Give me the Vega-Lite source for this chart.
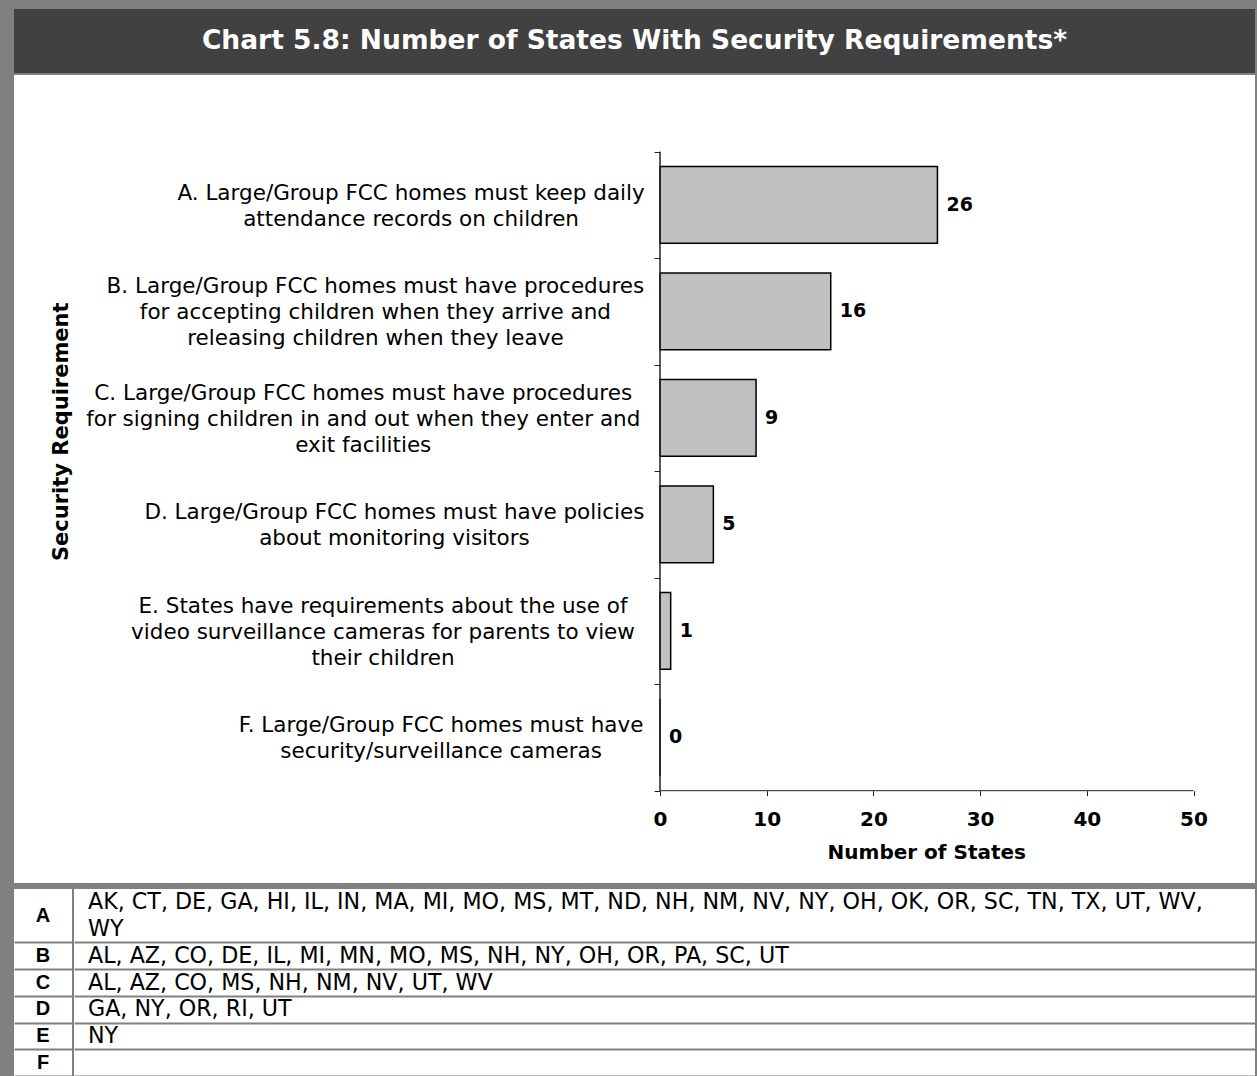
{
  "$schema": "https://vega.github.io/schema/vega-lite/v6.json",
  "background": "#808080",
  "padding": {"left": 14, "top": 9, "right": 2, "bottom": 0},
  "spacing": 2,
  "config": {"view": {"stroke": null}},
  "datasets": {
    "requirements": [
      {"key": "A", "requirement": "A. Large/Group FCC homes must keep daily|attendance records on children", "num_states": 26},
      {"key": "B", "requirement": "B. Large/Group FCC homes must have procedures|for accepting children when they arrive and|releasing children when they leave", "num_states": 16},
      {"key": "C", "requirement": "C. Large/Group FCC homes must have procedures|for signing children in and out when they enter and|exit facilities", "num_states": 9},
      {"key": "D", "requirement": "D. Large/Group FCC homes must have policies|about monitoring visitors", "num_states": 5},
      {"key": "E", "requirement": "E. States have requirements about the use of|video surveillance cameras for parents to view|their children", "num_states": 1},
      {"key": "F", "requirement": "F. Large/Group FCC homes must have|security/surveillance cameras", "num_states": 0}
    ],
    "table": [
      {"key": "A", "states": "AK, CT, DE, GA, HI, IL, IN, MA, MI, MO, MS, MT, ND, NH, NM, NV, NY, OH, OK, OR, SC, TN, TX, UT, WV,|WY"},
      {"key": "B", "states": "AL, AZ, CO, DE, IL, MI, MN, MO, MS, NH, NY, OH, OR, PA, SC, UT"},
      {"key": "C", "states": "AL, AZ, CO, MS, NH, NM, NV, UT, WV"},
      {"key": "D", "states": "GA, NY, OR, RI, UT"},
      {"key": "E", "states": "NY"},
      {"key": "F", "states": ""}
    ]
  },
  "vconcat": [
    {
      "width": 1241,
      "height": 64,
      "view": {"fill": "#414141", "stroke": null},
      "data": {"values": [{"title": "Chart 5.8: Number of States With Security Requirements*"}]},
      "mark": {"type": "text", "font": "DejaVu Sans", "fontWeight": "bold", "fontSize": 26.5, "fill": "#ffffff", "align": "center", "baseline": "middle"},
      "encoding": {"text": {"field": "title"}}
    },
    {
      "spacing": 6,
      "vconcat": [
        {
          "width": 1241,
          "height": 808,
          "view": {"fill": "#ffffff", "stroke": null},
          "data": {"name": "requirements"},
          "layer": [
            {
              "mark": {"type": "bar", "fill": "#c0c0c0", "stroke": "#000000", "strokeWidth": 1.5, "height": {"band": 0.72}},
              "encoding": {
                "y": {
                  "field": "requirement", "type": "nominal", "sort": null,
                  "scale": {
                    "domain": [
                      "A. Large/Group FCC homes must keep daily|attendance records on children",
                      "B. Large/Group FCC homes must have procedures|for accepting children when they arrive and|releasing children when they leave",
                      "C. Large/Group FCC homes must have procedures|for signing children in and out when they enter and|exit facilities",
                      "D. Large/Group FCC homes must have policies|about monitoring visitors",
                      "E. States have requirements about the use of|video surveillance cameras for parents to view|their children",
                      "F. Large/Group FCC homes must have|security/surveillance cameras"
                    ],
                    "paddingInner": 0, "paddingOuter": 0.7934, "align": 0.4538
                  },
                  "axis": {"orient": "left", "offset": -646, "domain": false, "labels": false, "ticks": true, "tickBand": "extent", "tickSize": 6, "tickColor": "#222222", "tickWidth": 1, "grid": false, "title": null, "minExtent": 0}
                },
                "x": {
                  "field": "num_states", "type": "quantitative",
                  "scale": {"domain": [-60.54, 55.76], "nice": false, "zero": false},
                  "axis": {"orient": "bottom", "offset": -92.3, "values": [0, 10, 20, 30, 40, 50], "format": "d", "domain": false, "ticks": true, "tickSize": 5, "tickColor": "#222222", "tickWidth": 1, "labelFont": "DejaVu Sans", "labelFontWeight": "bold", "labelFontSize": 20, "labelColor": "#000000", "labelPadding": 14, "labelFlush": false, "labelOverlap": false, "grid": false, "title": null, "minExtent": 0}
                },
                "x2": {"datum": 0}
              }
            },
            {
              "mark": {"type": "text", "align": "left", "baseline": "middle", "dx": 9, "font": "DejaVu Sans", "fontWeight": "bold", "fontSize": 19, "fill": "#000000"},
              "encoding": {
                "y": {"field": "requirement", "type": "nominal", "sort": null},
                "x": {"field": "num_states", "type": "quantitative"},
                "text": {"field": "num_states", "type": "quantitative", "format": "d"}
              }
            },
            {
              "mark": {
                "type": "text", "align": "center", "baseline": "middle", "lineBreak": "|", "lineHeight": 26,
                "font": "DejaVu Sans", "fontSize": 21.5, "fill": "#000000",
                "dy": {"expr": "2-13*(length(split(datum.requirement,'|'))-1)"},
                "dx": {"expr": "-15-10.75*max((0.62*length((split(datum.requirement,'|')[0]||''))-0.31*length(replace((split(datum.requirement,'|')[0]||''),regexp('[^ilj.,/ I]','g'),''))-0.2*length(replace((split(datum.requirement,'|')[0]||''),regexp('[^tfr]','g'),''))+0.33*length(replace((split(datum.requirement,'|')[0]||''),regexp('[^mwMW]','g'),''))),(0.62*length((split(datum.requirement,'|')[1]||''))-0.31*length(replace((split(datum.requirement,'|')[1]||''),regexp('[^ilj.,/ I]','g'),''))-0.2*length(replace((split(datum.requirement,'|')[1]||''),regexp('[^tfr]','g'),''))+0.33*length(replace((split(datum.requirement,'|')[1]||''),regexp('[^mwMW]','g'),''))),(0.62*length((split(datum.requirement,'|')[2]||''))-0.31*length(replace((split(datum.requirement,'|')[2]||''),regexp('[^ilj.,/ I]','g'),''))-0.2*length(replace((split(datum.requirement,'|')[2]||''),regexp('[^tfr]','g'),''))+0.33*length(replace((split(datum.requirement,'|')[2]||''),regexp('[^mwMW]','g'),''))))"}
              },
              "encoding": {
                "y": {"field": "requirement", "type": "nominal", "sort": null},
                "x": {"datum": 0, "type": "quantitative"},
                "text": {"field": "requirement"}
              }
            },
            {
              "mark": {"type": "bar", "fill": null, "stroke": "#222222", "strokeWidth": 1},
              "encoding": {
                "y": {"field": "requirement", "type": "nominal", "sort": null},
                "x": {"datum": 0, "type": "quantitative"},
                "x2": {"datum": 0}
              }
            },
            {
              "data": {"values": [{"line": "x axis"}]},
              "mark": {"type": "rule", "color": "#222222", "strokeWidth": 1},
              "encoding": {
                "x": {"datum": 0, "type": "quantitative"},
                "x2": {"datum": 50},
                "y": {"datum": "F. Large/Group FCC homes must have|security/surveillance cameras", "type": "nominal", "bandPosition": 1}
              }
            },
            {
              "data": {"values": [{"title": "Security Requirement"}]},
              "mark": {"type": "text", "angle": 270, "align": "center", "baseline": "middle", "font": "DejaVu Sans", "fontWeight": "bold", "fontSize": 21, "fill": "#000000"},
              "encoding": {
                "x": {"datum": -56, "type": "quantitative"},
                "y": {"datum": "C. Large/Group FCC homes must have procedures|for signing children in and out when they enter and|exit facilities", "type": "nominal", "bandPosition": 0.63},
                "text": {"field": "title"}
              }
            },
            {
              "data": {"values": [{"title": "Number of States"}]},
              "mark": {"type": "text", "align": "center", "baseline": "middle", "dy": 62, "font": "DejaVu Sans", "fontWeight": "bold", "fontSize": 20, "fill": "#000000"},
              "encoding": {
                "x": {"datum": 25, "type": "quantitative"},
                "y": {"datum": "F. Large/Group FCC homes must have|security/surveillance cameras", "type": "nominal", "bandPosition": 1},
                "text": {"field": "title"}
              }
            }
          ]
        },
        {
          "spacing": 2,
          "hconcat": [
            {
              "width": 58,
              "height": 187,
              "view": {"fill": "#ffffff", "stroke": null},
              "data": {"name": "table"},
              "layer": [
                {
                  "transform": [{"filter": "datum.key === 'A'"}],
                  "mark": {"type": "text", "align": "center", "baseline": "middle", "font": "Liberation Sans", "fontWeight": "bold", "fontSize": 20, "fill": "#000000"},
                  "encoding": {
                    "y": {"datum": "A", "type": "nominal", "bandPosition": 1,
                      "scale": {"domain": ["A", "A-2", "B", "C", "D", "E", "F"], "paddingInner": 0, "paddingOuter": 0},
                      "axis": {"orient": "left", "values": ["B", "C", "D", "E", "F"], "tickBand": "extent", "grid": true, "gridColor": "#808080", "gridWidth": 2, "gridOpacity": 1, "labels": false, "ticks": false, "domain": false, "title": null, "minExtent": 0, "maxExtent": 0}},
                    "text": {"field": "key"}
                  }
                },
                {
                  "transform": [{"filter": "datum.key !== 'A'"}],
                  "mark": {"type": "text", "align": "center", "baseline": "middle", "font": "Liberation Sans", "fontWeight": "bold", "fontSize": 20, "fill": "#000000"},
                  "encoding": {
                    "y": {"field": "key", "type": "nominal"},
                    "text": {"field": "key"}
                  }
                }
              ]
            },
            {
              "width": 1181,
              "height": 187,
              "view": {"fill": "#ffffff", "stroke": null},
              "data": {"name": "table"},
              "mark": {"type": "text", "align": "left", "baseline": "middle", "dx": 14, "lineBreak": "|", "lineHeight": 27, "font": "DejaVu Sans", "fontSize": 22.2, "fill": "#000000"},
              "encoding": {
                "y": {"field": "key", "type": "nominal",
                  "scale": {"domain": ["A", "A-2", "B", "C", "D", "E", "F"], "paddingInner": 0, "paddingOuter": 0},
                  "axis": {"orient": "left", "values": ["B", "C", "D", "E", "F"], "tickBand": "extent", "grid": true, "gridColor": "#808080", "gridWidth": 2, "gridOpacity": 1, "labels": false, "ticks": false, "domain": false, "title": null, "minExtent": 0, "maxExtent": 0}},
                "x": {"datum": 0, "type": "quantitative", "scale": {"domain": [0, 1]}, "axis": null},
                "text": {"field": "states"}
              }
            }
          ]
        }
      ]
    }
  ]
}
